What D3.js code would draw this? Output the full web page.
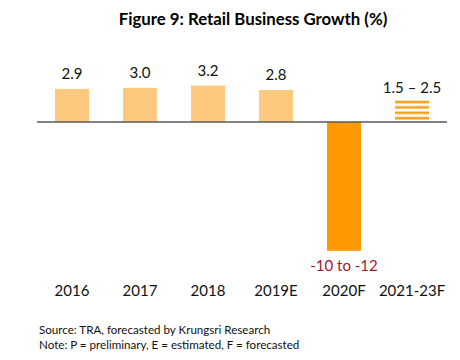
<!DOCTYPE html>
<html>
<head>
<meta charset="utf-8">
<script src="https://cdn.jsdelivr.net/npm/d3@7/dist/d3.min.js"></script>
<style>
  html, body { margin: 0; padding: 0; background: #fff; }
  svg { display: block; }
</style>
</head>
<body>
<svg id="chart" width="460" height="360"></svg>
<script>
const categories = ["2016", "2017", "2018", "2019E", "2020F", "2021-23F"];
const values = [2.9, 3.0, 3.2, 2.8, -11.3, 2.0];
const valueLabels = ["2.9", "3.0", "3.2", "2.8", "-10 to -12", "1.5 \u2013 2.5"];
const barKinds = ["actual", "actual", "actual", "actual", "forecast", "range"];
const titleText = "Figure 9: Retail Business Growth (%)";
const notes = ["Source: TRA, forecasted by Krungsri Research",
               "Note: P = preliminary, E = estimated, F = forecasted"];

const FONT = "Lato, 'Open Sans', sans-serif";
const svg = d3.select("#chart");
const data = categories.map((c, i) => ({ c, v: values[i], label: valueLabels[i], kind: barKinds[i] }));

const x = d3.scaleBand().domain(categories).range([38, 446]).paddingInner(0.5).paddingOuter(0.25);
const y = d3.scaleLinear().domain([5, -12]).range([122 - 5 * 11.4, 122 + 12 * 11.4]);

// stripe pattern for range bar
const defs = svg.append("defs");
const rangeDatum = data.find(d => d.kind === "range");
const pat = defs.append("pattern")
  .attr("id", "stripes")
  .attr("patternUnits", "userSpaceOnUse")
  .attr("x", 0).attr("y", y(rangeDatum.v))
  .attr("width", 10).attr("height", 5.4);
pat.append("rect").attr("x", 0).attr("y", 1.5).attr("width", 10).attr("height", 2.6).attr("fill", "#F7A11A");

svg.append("text")
  .attr("x", 253).attr("y", 25)
  .attr("text-anchor", "middle")
  .attr("font-family", FONT).attr("font-weight", "bold").attr("font-size", 16.8)
  .attr("fill", "#000")
  .text(titleText);

const fillFor = k => k === "actual" ? "#FDC97F" : k === "forecast" ? "#FF9900" : "url(#stripes)";

svg.selectAll("rect.bar").data(data).join("rect")
  .attr("class", "bar")
  .attr("x", d => x(d.c))
  .attr("width", x.bandwidth())
  .attr("y", d => Math.min(y(d.v), y(0)))
  .attr("height", d => Math.abs(y(d.v) - y(0)))
  .attr("fill", d => fillFor(d.kind));

// baseline axis
const xAxis = d3.axisBottom(x).tickSize(0).tickPadding(0);
const ax = svg.append("g").attr("transform", `translate(0,${y(0)})`).call(xAxis);
ax.select(".domain").attr("stroke", "#595959").attr("stroke-width", 1.3).attr("d", `M37,0H447`);
ax.selectAll(".tick text")
  .attr("y", 296 - y(0))
  .attr("dy", 0)
  .attr("font-family", FONT).attr("font-size", 15)
  .attr("fill", "#111");

svg.selectAll("text.vlabel").data(data).join("text")
  .attr("class", "vlabel")
  .attr("x", d => x(d.c) + x.bandwidth() / 2)
  .attr("y", d => d.v < 0 ? y(d.v) + 20 : y(d.v) - (d.kind === "range" ? 6 : 10))
  .attr("text-anchor", "middle")
  .attr("font-family", FONT).attr("font-size", 15)
  .attr("fill", d => d.v < 0 ? "#A3162B" : "#111")
  .text(d => d.label);

svg.selectAll("text.note").data(notes).join("text")
  .attr("class", "note")
  .attr("x", 39)
  .attr("y", (d, i) => 334 + i * 14.5)
  .attr("font-family", FONT).attr("font-size", 11.6)
  .attr("fill", "#111")
  .text(d => d);
</script>
</body>
</html>
